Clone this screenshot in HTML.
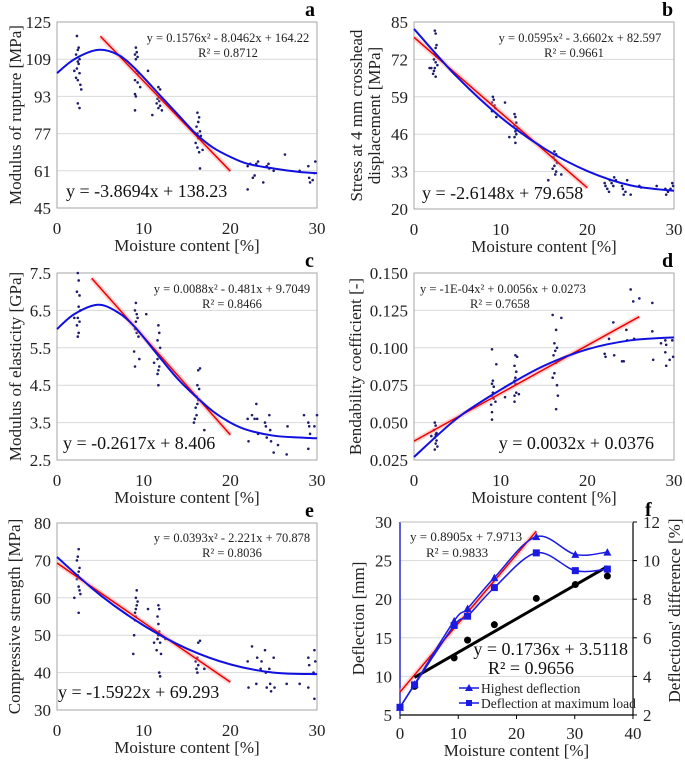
<!DOCTYPE html>
<html><head><meta charset="utf-8">
<style>
body{margin:0;background:#fff}
svg{display:block;font-family:"Liberation Serif","DejaVu Serif",serif}
svg text{font-family:"Liberation Serif","DejaVu Serif",serif}
</style></head>
<body>
<svg id="c" width="685" height="762" viewBox="0 0 685 762" xmlns="http://www.w3.org/2000/svg" font-family="Liberation Serif, DejaVu Serif, serif"></svg>
<script>
// ---------- data ----------
const aPtsX=[2.3,2.4,2.5,2.2,2.6,2.4,2.0,2.5,2.3,2.6,2.2,2.4,2.7,2.8,2.4,2.6, 9.1,9.2,9.0,9.3,9.1,9.2,9.4,9.0,9.3,9.6,9.0,9.1,9.0,10.5, 11.7,11.9,11.6,11.8,11.5,11.9,11.7,12.1,11.0, 16.2,16.4,16.3,16.1,16.5,16.2,16.6,16.3,16.0,16.2,16.8,16.4,16.5, 22,22.3,22.6,22.0,23,23.2,22.8,23.8,24.2,24.4,24.5,25,26.3,28,29,29.1,29.2,29.5,29.8,29.7];
const aPtsY=[119,113,114,111,109,108,104,107,105,103,101,100,98,96,90,88, 114,112,111,110,109,104,103,100,99,97,94,93,87,104, 97,96,92,91,90,89,88,87,85, 86,84,82,80,78,77,76,75,73,71,70,69,62, 63,64,58,53,64,65,59,56,63,64,62,61,68,61,63,58,56,57,65,60];
const aCurveX=[0,2,4.7,7,9,12,14,16,18,20,22,25,28,30];
const aCurveY=[103,109,113,111,105,93,85,77,71,67,64,62,60.5,60];

const bPtsX=[2.4,2.5,2.6,2.5,2.4,2.6,2.3,2.5,2.7,2.4,2.2,2.5,2.3,2.0,1.8, 9.1,9.2,9.0,9.3,9.4,9.0,9.5,10.5, 11.6,11.7,11.8,11.6,11.9,11.7,11.8,11.6,11.7,11.0, 16.2,16.4,16.1,16.3,16.5,16.2,16.0,16.4,16.3,15.5,17.0, 22,22.1,22.3,22.5,22.6,22.8,23,23.1,23.3,24,24.1,24.2,24.4,24.6,25,26,26.2,28,29,29.1,29.3,29.8,29.6,29.9];
const bPtsY=[82,81,77,76,74,73,72,71,70,69,67,66,68,69,69, 59,58,57,56,55,54,52,57, 53,52,50,49,48,47,46,45,43,45, 40,39,38,37,36,35,34,33,32,30,32, 29,28,27,26,30,29,28,31,30,28,27,25,26,30,25,28,27.5,28,27,25,26,29,27,28];
const bCurveX=[0,5,10,15,20,25,30];
const bCurveY=[82.6,65.8,51.9,41.1,33.2,28.2,26.3];

const cPtsX=[2.4,2.5,2.3,2.6,2.5,2.7,2.4,2.6,2.3,2.5,2.4,2.0, 9.1,9.0,9.2,9.3,9.1,9.0,9.2,9.4,8.9,9.0,9.5,10.3, 11.7,11.8,11.6,11.9,11.7,11.6,11.8,11.7,11.6,11.7,11.2, 16.5,16.3,16.2,16.4,16.1,16.3,16.2,16.0,16.1,15.9,15.8,17.0, 22,22.1,22.5,22.8,23,23.1,23.2,24,24.1,24.2,24.5,24.6,24.7,25,25.5,26.5,26.6,28.5,29,29.1,29.2,29.0,29.7,30];
const cPtsY=[7.5,7.3,7.0,6.9,6.6,6.5,6.3,6.2,6.1,5.9,5.8,6.3, 6.7,6.5,6.4,6.3,6.2,6.0,5.9,5.8,5.4,5.0,5.2,6.4, 6.1,5.9,5.7,5.5,5.3,5.2,5.0,4.9,4.8,4.5,5.1, 4.95,4.9,4.5,4.4,4.2,4.1,4.0,3.9,3.7,3.6,3.5,3.3, 3.6,3.0,3.7,3.6,4.0,3.6,3.2,3.5,3.4,3.1,3.7,3.3,3.0,2.7,2.9,2.65,3.4,3.7,3.5,3.4,3.2,2.8,3.4,3.7];
const cCurveX=[0,2,4.7,7,9,12,14,16,18,20,22,25,28,30];
const cCurveY=[6.0,6.4,6.65,6.45,6.05,5.2,4.65,4.2,3.8,3.5,3.3,3.15,3.1,3.08];

const dPtsX=[2.4,2.5,2.3,2.6,2.5,2.4,2.6,2.5,2.7,2.4,2.0, 9.0,9.1,9.0,9.2,9.1,9.0,9.2,8.9,9.0,9.0,9.5,9.4,10.5, 11.7,11.9,11.6,11.8,11.7,11.6,11.7,11.8,11.6,11.6,12.1, 16.0,17.0,16.4,16.2,16.5,16.3,16.1,16.4,16.2,16.0,16.5,16.6,16.4, 22,22.1,22.5,23,23.1,24,24.2,24.5,24.6,25,25.3,25.4,26,27.5,27.5,27.6,28.5,29,29.1,29.0,29.1,29.5,29.8,29.9];
const dPtsY=[0.050,0.048,0.045,0.043,0.042,0.040,0.038,0.036,0.034,0.032,0.041, 0.099,0.078,0.076,0.074,0.070,0.068,0.066,0.062,0.057,0.052,0.089,0.064,0.067, 0.095,0.094,0.088,0.084,0.080,0.078,0.076,0.070,0.068,0.064,0.069, 0.122,0.120,0.112,0.103,0.100,0.098,0.095,0.090,0.083,0.080,0.075,0.068,0.059, 0.096,0.094,0.106,0.117,0.095,0.091,0.091,0.112,0.105,0.139,0.131,0.106,0.133,0.130,0.111,0.092,0.103,0.105,0.102,0.097,0.088,0.092,0.105,0.094];
const dCurveX=[0,5,10,15,20,25,30];
const dCurveY=[0.027,0.053,0.072,0.088,0.099,0.105,0.107];

const ePtsX=[2.5,2.4,2.3,2.6,2.5,2.4,2.3,2.5,2.6,2.7,2.0,2.5, 9.2,9.1,9.3,9.2,9.1,9.0,9.1,9.0,8.9,8.8,10.5, 11.7,11.8,11.6,11.7,11.8,11.7,11.6,11.9,11.5,12.0,11.8,11.9,11.2,12.5, 16.5,16.3,16.2,16.0,16.3,16.1,16.2,17.0, 22,22.1,22.5,23,23.1,23.5,23.6,24,24.1,24.2,24.5,24.6,24.7,25,25.1,26.5,28,29,29.1,29.0,29.7,29.8,29.6,29.7];
const ePtsY=[73,71,70,68,67,66,65,63,62,61,60,56, 62,60,59,58,57,56,55,54,50,45,57, 58,57,55,53,51,50,49,48,46,45,40,39,48,49, 48.5,48,44,43,42,41,40,41, 43,36,47,37,44,41,43,46,40,36,41,37,35,44,36,37,37,36,42,44,46,43,40,33];
const eCurveX=[0,5,10,15,20,25,30];
const eCurveY=[70.9,60.7,52.6,46.4,42.2,40.0,39.6];

const fX=[0,2.5,9.3,11.6,16.2,23.4,30.1,35.6];
const fHighest=[6,9.0,17.2,18.8,22.8,28.1,25.8,26.1];
const fAtMax=[6,8.9,16.6,17.8,21.5,26.0,23.7,23.9];
const fDiffX=[2.5,9.3,11.6,16.2,23.4,30.1,35.6];
const fDiff=[3.48,4.96,5.88,6.68,8.04,8.76,9.2];
const fXTicks=[0,10,20,30,40];
const fYTicks=[5,10,15,20,25,30];
const fY2Ticks=[2,4,6,8,10,12];

// ---------- drawing ----------
const svg=document.getElementById('c');
const NS='http://www.w3.org/2000/svg';
const FONT='Liberation Serif, DejaVu Serif, serif';
function mk(tag,at,parent){const e=document.createElementNS(NS,tag);for(const k in at)e.setAttribute(k,at[k]);(parent||svg).appendChild(e);return e;}
function txt(s,at,parent){at['font-family']=FONT;const e=mk('text',at,parent);e.textContent=s;return e;}
function smooth(pts){
  let d='M'+pts[0][0]+','+pts[0][1];
  for(let i=0;i<pts.length-1;i++){
    const p0=pts[Math.max(0,i-1)],p1=pts[i],p2=pts[i+1],p3=pts[Math.min(pts.length-1,i+2)];
    const c1=[p1[0]+(p2[0]-p0[0])/6,p1[1]+(p2[1]-p0[1])/6];
    const c2=[p2[0]-(p3[0]-p1[0])/6,p2[1]-(p3[1]-p1[1])/6];
    d+=' C'+c1.join(',')+' '+c2.join(',')+' '+p2.join(',');
  }
  return d;
}
const panels=[
 {id:'a',L:57,R:317,T:22,B:208,ymin:45,ymax:125,yt:[45,61,77,93,109,125],dec:0,px:aPtsX,py:aPtsY,cx:aCurveX,cy:aCurveY,slope:-3.8694,icp:138.23,rx:[5,20],
  ytitle:['Modulus of rupture [MPa]'],ytx:[15],eq:'y = 0.1576x² - 8.0462x  + 164.22',r2:'R² = 0.8712',eqx:228,eqy:42,eqAnchor:'middle',r2x:228,lin:'y = -3.8694x + 138.23',linx:66,liny:197,linAnchor:'start'},
 {id:'b',L:414,R:674,T:22,B:209,ymin:20,ymax:85,yt:[20,33,46,59,72,85],dec:0,px:bPtsX,py:bPtsY,cx:bCurveX,cy:bCurveY,slope:-2.6148,icp:79.658,rx:[0,20],
  ytitle:['Stress at 4 mm crosshead','displacement [MPa]'],ytx:[356,374],eq:'y = 0.0595x² - 3.6602x  + 82.597',r2:'R² = 0.9661',eqx:580,eqy:42,eqAnchor:'middle',r2x:574,lin:'y = -2.6148x + 79.658',linx:422,liny:199,linAnchor:'start'},
 {id:'c',L:57,R:317,T:273,B:460,ymin:2.5,ymax:7.5,yt:[2.5,3.5,4.5,5.5,6.5,7.5],dec:1,px:cPtsX,py:cPtsY,cx:cCurveX,cy:cCurveY,slope:-0.2617,icp:8.406,rx:[4,20],
  ytitle:['Modulus of elasticity [GPa]'],ytx:[15],eq:'y = 0.0088x² - 0.481x  + 9.7049',r2:'R² = 0.8466',eqx:232,eqy:293,eqAnchor:'middle',r2x:232,lin:'y = -0.2617x + 8.406',linx:63,liny:449,linAnchor:'start'},
 {id:'d',L:414,R:674,T:273,B:460,ymin:0.025,ymax:0.150,yt:[0.025,0.05,0.075,0.1,0.125,0.15],dec:3,px:dPtsX,py:dPtsY,cx:dCurveX,cy:dCurveY,slope:0.0032,icp:0.0376,rx:[0,26],
  ytitle:['Bendability coefficient  [-]'],ytx:[355],eq:'y = -1E-04x² + 0.0056x  + 0.0273',r2:'R² = 0.7658',eqx:420,eqy:293,eqAnchor:'start',r2x:470,lin:'y = 0.0032x + 0.0376',linx:654,liny:449,linAnchor:'end'},
 {id:'e',L:57,R:317,T:523,B:710,ymin:30,ymax:80,yt:[30,40,50,60,70,80],dec:0,px:ePtsX,py:ePtsY,cx:eCurveX,cy:eCurveY,slope:-1.5922,icp:69.293,rx:[0,20],
  ytitle:['Compressive strength [MPa]'],ytx:[14],eq:'y = 0.0393x² - 2.221x  + 70.878',r2:'R² = 0.8036',eqx:232,eqy:542,eqAnchor:'middle',r2x:232,lin:'y = -1.5922x + 69.293',linx:58,liny:698,linAnchor:'start'}
];
const xTicks=[0,10,20,30];
panels.forEach(p=>{
  const g=mk('g',{});
  
  
  const X=v=>p.L+(v/30)*(p.R-p.L);
  const Y=v=>p.B-(v-p.ymin)/(p.ymax-p.ymin)*(p.B-p.T);
  p.yt.forEach((t,i)=>{
    if(i>0&&i<p.yt.length-1){const gl=mk('line',{x1:p.L,x2:p.R,y1:Y(t),y2:Y(t),stroke:'#d9d9d9','stroke-width':1},g);}
    const tl=txt(t.toFixed(p.dec),{x:p.L-6,y:Y(t)+6,'text-anchor':'end','font-size':17,fill:'#222'},g);
    
  });
  const fr=mk('rect',{x:p.L,y:p.T,width:p.R-p.L,height:p.B-p.T,fill:'none',stroke:'#a6a6a6','stroke-width':1},g);
  
  xTicks.forEach(t=>{const tl=txt(String(t),{x:X(t),y:p.B+26,'text-anchor':'middle','font-size':17,fill:'#222'},g);
    });
  const xt=txt('Moisture content [%]',{x:(p.L+p.R)/2,y:p.B+43,'text-anchor':'middle','font-size':17,fill:'#222'},g);
  
  p.ytitle.forEach((s,i)=>{const cy=(p.T+p.B)/2;const yt=txt(s,{x:p.ytx[i],y:cy,'text-anchor':'middle','font-size':17,fill:'#222',transform:'rotate(-90 '+p.ytx[i]+' '+cy+')',dy:6},g);
    });
  const lb=txt(p.id,{x:p.R-12,y:p.T-6,'font-size':20,'font-weight':'bold',fill:'#000'},g);
  
  p.px.forEach((v,i)=>{const c=mk('circle',{cx:X(v),cy:Y(p.py[i]),r:1.3,fill:'#1c1c6b'},g);
    });
  const x1=p.rx[0],x2=p.rx[1];
  const glow=mk('line',{x1:X(x1),y1:Y(p.icp+p.slope*x1),x2:X(x2),y2:Y(p.icp+p.slope*x2),stroke:'#ff9a9a','stroke-width':5,'stroke-opacity':0.45},g);
  
  const rl=mk('line',{x1:X(x1),y1:Y(p.icp+p.slope*x1),x2:X(x2),y2:Y(p.icp+p.slope*x2),stroke:'#ee0000','stroke-width':1.5},g);
  
  const pts=p.cx.map((v,i)=>[X(v),Y(p.cy[i])]);
  const bl=mk('path',{d:smooth(pts),fill:'none',stroke:'#1010e0','stroke-width':2},g);
  
  const e1=txt(p.eq,{x:p.eqx,y:p.eqy,'text-anchor':p.eqAnchor,'font-size':12.5,fill:'#222'},g);
  
  const e2=txt(p.r2,{x:p.r2x,y:p.eqy+15,'text-anchor':p.eqAnchor,'font-size':12.5,fill:'#222'},g);
  
  const e3=txt(p.lin,{x:p.linx,y:p.liny,'text-anchor':p.linAnchor,'font-size':18,fill:'#111'},g);
  
});

// panel f
(function(){
  const L=400,R=633,T=522,B=715;
  const g=mk('g',{});
  
  
  const X=v=>L+v/40*(R-L);
  const Y=v=>B-(v-5)/25*(B-T);
  const Y2=v=>B-(v-2)/10*(B-T);
  fYTicks.forEach((t,i)=>{
    if(i>0&&i<fYTicks.length-1){const gl=mk('line',{x1:L,x2:R,y1:Y(t),y2:Y(t),stroke:'#d9d9d9'},g);}
    const tl=txt(String(t),{x:L-8,y:Y(t)+6,'text-anchor':'end','font-size':17,fill:'#222'},g);
    
  });
  fY2Ticks.forEach(t=>{const tl=txt(String(t),{x:R+10,y:Y2(t)+6,'text-anchor':'start','font-size':17,fill:'#222'},g);
    
    const tk=mk('line',{x1:R,x2:R+4,y1:Y2(t),y2:Y2(t),stroke:'#000'},g);});
  fXTicks.forEach(t=>{const tl=txt(String(t),{x:X(t),y:B+24,'text-anchor':'middle','font-size':17,fill:'#222'},g);
    
    const tk=mk('line',{x1:X(t),x2:X(t),y1:B,y2:B+4,stroke:'#000'},g);});
  let a=mk('line',{x1:L,x2:R,y1:B,y2:B,stroke:'#000','stroke-width':1.2},g);
  a=mk('line',{x1:L,x2:L,y1:T,y2:B,stroke:'#2b2bd0','stroke-width':1.5},g);
  a=mk('line',{x1:R,x2:R,y1:T,y2:B,stroke:'#000','stroke-width':1.2},g);
  a=mk('line',{x1:L,x2:R,y1:T,y2:T,stroke:'#bbb','stroke-width':1},g);
  let t=txt('Moisture content [%]',{x:(L+R)/2,y:B+41,'text-anchor':'middle','font-size':17,fill:'#222'},g);
  const cy=(T+B)/2;
  t=txt('Deflection [mm]',{x:358,y:cy,'text-anchor':'middle','font-size':17,fill:'#222',transform:'rotate(-90 358 '+cy+')',dy:6},g);
  t=txt("Deflections' difference [%]",{x:674,y:cy-8,'text-anchor':'middle','font-size':17,fill:'#222',transform:'rotate(-90 674 '+(cy-8)+')',dy:6},g);
  t=txt('f',{x:645,y:516,'font-size':20,'font-weight':'bold',fill:'#000'},g);
  const rx1=0,rx2=23.4,sl=0.8905,ic=7.9713;
  a=mk('line',{x1:X(rx1),y1:Y(ic+sl*rx1),x2:X(rx2),y2:Y(ic+sl*rx2),stroke:'#ff9a9a','stroke-width':5,'stroke-opacity':0.45},g);
  a=mk('line',{x1:X(rx1),y1:Y(ic+sl*rx1),x2:X(rx2),y2:Y(ic+sl*rx2),stroke:'#ee0000','stroke-width':1.5},g);
  const bs=0.1736,bi=3.5118,bx1=2.5,bx2=35.6;
  a=mk('line',{x1:X(bx1),y1:Y2(bi+bs*bx1),x2:X(bx2),y2:Y2(bi+bs*bx2),stroke:'#000','stroke-width':3},g);
  fDiffX.forEach((v,i)=>{const c=mk('circle',{cx:X(v),cy:Y2(fDiff[i]),r:3.5,fill:'#000'},g);});
  const p1=fX.map((v,i)=>[X(v),Y(fHighest[i])]);
  const p2=fX.map((v,i)=>[X(v),Y(fAtMax[i])]);
  a=mk('path',{d:smooth(p1),fill:'none',stroke:'#1a1ae0','stroke-width':1.5},g);
  a=mk('path',{d:smooth(p2),fill:'none',stroke:'#1a1ae0','stroke-width':1.5},g);
  p1.forEach(q=>{const m=mk('polygon',{points:(q[0]-4)+','+(q[1]+3.5)+' '+(q[0]+4)+','+(q[1]+3.5)+' '+q[0]+','+(q[1]-4),fill:'#1a1ae0'},g);});
  p2.forEach(q=>{const m=mk('rect',{x:q[0]-3.5,y:q[1]-3.5,width:7,height:7,fill:'#1a1ae0'},g);});
  t=txt('y = 0.8905x + 7.9713',{x:410,y:541,'font-size':13,fill:'#222'},g);
  t=txt('R² = 0.9833',{x:426,y:557,'font-size':13,fill:'#222'},g);
  t=txt('y = 0.1736x + 3.5118',{x:628,y:655,'text-anchor':'end','font-size':18,fill:'#111'},g);
  t=txt('R² = 0.9656',{x:488,y:674,'font-size':18,fill:'#111'},g);
  const lg=mk('g',{},g);
  [['Highest deflection',688,'tri'],['Deflection at maximum load',703,'sq']].forEach(e=>{
    const ln=mk('line',{x1:459,x2:479,y1:e[1],y2:e[1],stroke:'#1a1ae0','stroke-width':1.5},lg);
    let m;
    if(e[2]==='tri')m=mk('polygon',{points:'465,'+(e[1]+3)+' 473,'+(e[1]+3)+' 469,'+(e[1]-4),fill:'#1a1ae0'},lg);
    else m=mk('rect',{x:466,y:e[1]-3,width:6,height:6,fill:'#1a1ae0'},lg);
    
    const tt=txt(e[0],{x:481,y:e[1]+5,'font-size':13.5,fill:'#222'},lg);
  });
})();
</script>
</body></html>
